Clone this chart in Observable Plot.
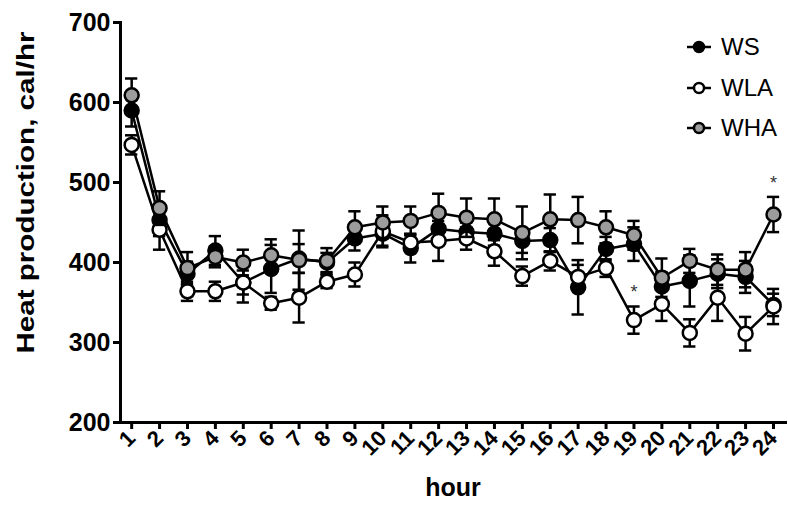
<!DOCTYPE html>
<html>
<head>
<meta charset="utf-8">
<script src="https://cdn.jsdelivr.net/npm/d3@7"></script>
<script src="https://cdn.jsdelivr.net/npm/@observablehq/plot@0.6"></script>
<style>
  html, body { margin: 0; padding: 0; background: white; }
  #wrap { position: relative; width: 788px; height: 516px; overflow: hidden; font-family: "Liberation Sans", Arial, sans-serif; }
  #legend { position: absolute; left: 686px; top: 27px; }
  .row { display: flex; align-items: center; height: 40.5px; }
  .row span { font-size: 24px; margin-left: 9px; color: black; }
</style>
</head>
<body>
<div id="wrap"><div id="legend"></div></div>
<script>
const hours = [1,2,3,4,5,6,7,8,9,10,11,12,13,14,15,16,17,18,19,20,21,22,23,24];
const yTicks = [200, 300, 400, 500, 600, 700];
const seriesNames = ["WS", "WLA", "WHA"];
const seriesFills = ["black", "white", "#9c9c9c"];

const wsMean  = [590, 453, 386, 415, 375, 392, 405, 400, 430, 436, 418, 442, 438, 436, 427, 428, 369, 417, 423, 370, 377, 386, 382, 347];
const wsErr   = [20, 20, 15, 18, 15, 30, 18, 12, 15, 15, 18, 15, 12, 15, 15, 15, 34, 15, 21, 18, 32, 18, 20, 14];
const wlaMean = [547, 441, 364, 364, 375, 349, 356, 376, 385, 439, 425, 427, 430, 414, 383, 402, 382, 393, 328, 348, 312, 356, 311, 345];
const wlaErr  = [12, 25, 12, 12, 25, 8, 31, 8, 15, 20, 10, 25, 14, 18, 12, 12, 15, 11, 17, 21, 17, 29, 21, 22];
const whaMean = [609, 468, 393, 407, 400, 409, 403, 402, 444, 450, 452, 462, 456, 454, 437, 454, 453, 444, 434, 381, 402, 391, 391, 460];
const whaErr  = [21, 21, 20, 13, 16, 20, 37, 16, 20, 20, 18, 24, 24, 26, 33, 31, 29, 20, 18, 24, 15, 19, 22, 22];

const starSeries = ["WLA", "WHA"];
const starHours = [19, 24];

const means = [wsMean, wlaMean, whaMean];
const errs = [wsErr, wlaErr, whaErr];

const tables = seriesNames.map((name, s) => hours.map((h, i) => ({
  series: name, hour: h, value: means[s][i], err: errs[s][i],
  lo: means[s][i] - errs[s][i], hi: means[s][i] + errs[s][i]
})));
const stars = starSeries.map((name, k) =>
  tables[seriesNames.indexOf(name)].find(d => d.hour === starHours[k]));

const capHalf = 0.22;
const seriesMarks = tables.flatMap((rows, s) => [
  Plot.line(rows, {x: "hour", y: "value", stroke: "black", strokeWidth: 2.5}),
  Plot.ruleX(rows, {x: "hour", y1: "lo", y2: "hi", stroke: "black", strokeWidth: 2.5}),
  Plot.ruleY(rows, {y: "hi", x1: d => d.hour - capHalf, x2: d => d.hour + capHalf, stroke: "black", strokeWidth: 2.5}),
  Plot.ruleY(rows, {y: "lo", x1: d => d.hour - capHalf, x2: d => d.hour + capHalf, stroke: "black", strokeWidth: 2.5}),
  Plot.dot(rows, {x: "hour", y: "value", r: 7, fill: seriesFills[s], stroke: "black", strokeWidth: 2.5})
]);

const yTitle = "Heat production, cal/hr";
const chart = Plot.plot({
  width: 788, height: 516,
  marginLeft: 120, marginRight: 3, marginTop: 22, marginBottom: 94,
  style: {fontFamily: "'Liberation Sans', Arial, sans-serif", background: "white", color: "black", overflow: "visible"},
  x: {domain: [0.6, 24.43]},
  y: {domain: [200, 700]},
  marks: [
    Plot.axisY({ticks: yTicks, tickSize: 7, tickPadding: 3, fontSize: 25, fontWeight: "bold", strokeWidth: 3, label: null}),
    Plot.axisX({ticks: hours, tickSize: 7, tickPadding: 5, tickRotate: -45, fontSize: 22, fontWeight: "bold", strokeWidth: 3, label: null}),
    Plot.frame({anchor: "left", strokeWidth: 3}),
    Plot.frame({anchor: "bottom", strokeWidth: 3}),
    ...seriesMarks,
    Plot.text(stars, {x: "hour", y: "hi", text: () => "*", dy: -14, fontSize: 18, fill: "#333"}),
    Plot.text([yTitle], {frameAnchor: "left", dx: -94, dy: -30, rotate: -90, fontSize: 24, fontWeight: "bold", textAnchor: "middle"}),
    Plot.text(["hour"], {frameAnchor: "bottom", dy: 73, fontSize: 25, fontWeight: "bold"})
  ]
});
document.getElementById("wrap").prepend(chart);
d3.select(chart).selectAll("text").filter(function() { return this.textContent === yTitle; })
  .attr("textLength", 322).attr("lengthAdjust", "spacingAndGlyphs");

const legend = d3.select("#legend");
seriesNames.forEach((name, s) => {
  const row = legend.append("div").attr("class", "row");
  const svg = row.append("svg").attr("width", 26).attr("height", 20);
  svg.append("line").attr("x1", 1).attr("x2", 25).attr("y1", 10).attr("y2", 10).attr("stroke", "black").attr("stroke-width", 2.5);
  svg.append("circle").attr("cx", 13).attr("cy", 10).attr("r", 5).attr("fill", seriesFills[s]).attr("stroke", "black").attr("stroke-width", 2.5);
  row.append("span").text(name);
});
</script>
</body>
</html>
